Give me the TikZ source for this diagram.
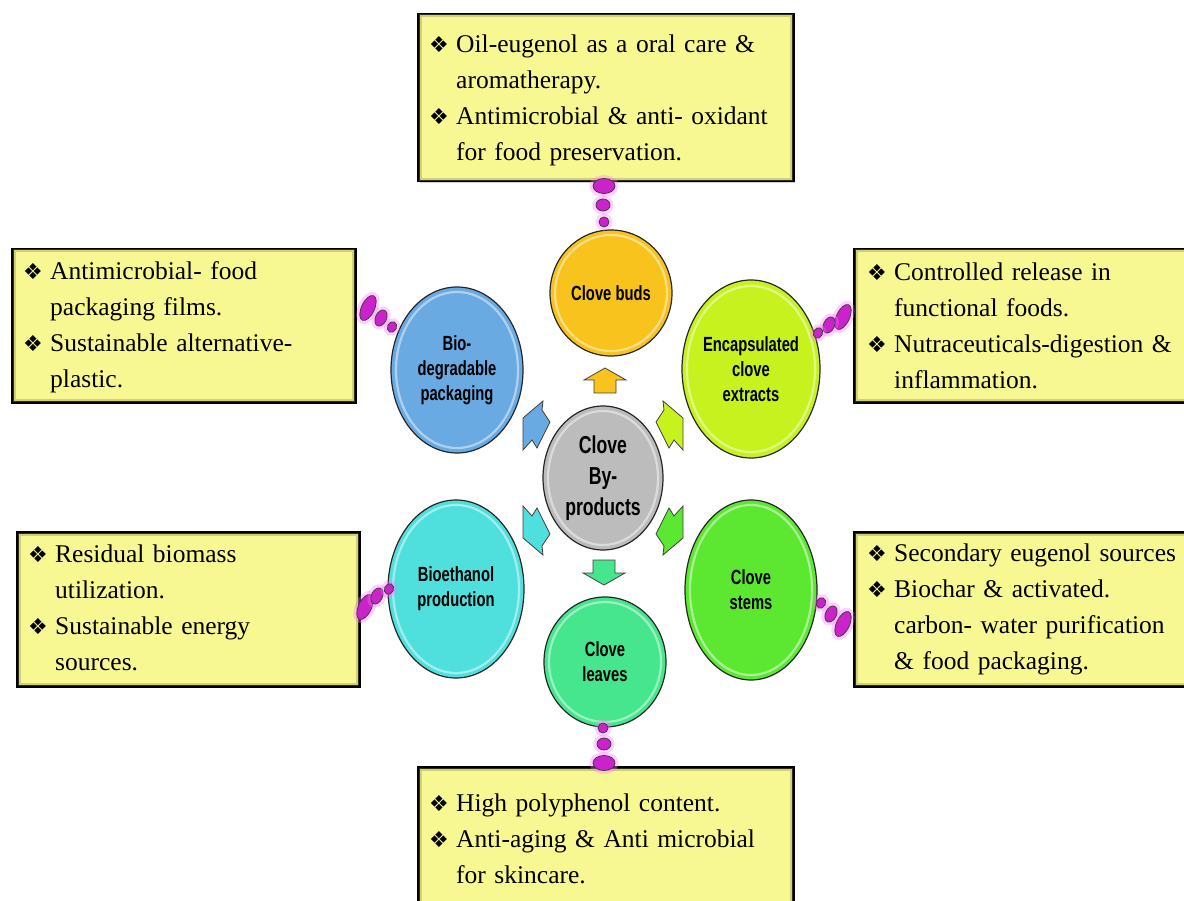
\documentclass[tikz,border=0pt]{standalone}
\usepackage{fontspec}
\setmainfont{Liberation Serif}
\newfontfamily\circfont[FakeStretch=0.72]{Liberation Sans}
\newfontfamily\bulfont{DejaVu Sans}
\usetikzlibrary{shapes.geometric,shadows,calc}
\definecolor{boxyel}{HTML}{F8F892}
\definecolor{cbuds}{HTML}{F9C31D}
\definecolor{cencap}{HTML}{C8F21E}
\definecolor{cstems}{HTML}{5CE830}
\definecolor{cleaves}{HTML}{45E68E}
\definecolor{cbioeth}{HTML}{4FE0DE}
\definecolor{cbiodeg}{HTML}{6AAAE2}
\definecolor{ccenter}{HTML}{BCBCBC}
\definecolor{dotmag}{HTML}{CC22CC}
\definecolor{dotglow}{HTML}{FF77FF}
\newcommand{\bul}{\makebox[27pt][l]{\bulfont\fontsize{22}{22}\selectfont ❖}}
\newcommand{\bitem}[1]{\par\setlength{\parskip}{0pt}\noindent\hangindent=27pt\relax\hangafter=1\relax\bul #1\par}
\newcommand{\ring}[4]{\draw[#4!45!white, line width=2.2, opacity=.85] (#1.center) ellipse [x radius=#2, y radius=#3];}
\begin{document}
\begin{tikzpicture}[x=1pt,y=-1pt,
  box/.style={rectangle, fill=boxyel, draw=black, line width=2.5, inner sep=0, anchor=north west,
    drop shadow={opacity=.35,shadow xshift=2pt,shadow yshift=-2pt}},
  inner/.style={draw=boxyel!55!black, line width=3, opacity=.35},
  txt/.style={anchor=west, inner sep=0, text width=400pt, align=left,
    font=\fontsize{25.5}{36}\selectfont},
  circ/.style={ellipse, draw=black!85, line width=1.2, inner sep=0, align=center,
    font=\circfont\bfseries\fontsize{20.5}{25}\selectfont},
  dot/.style={ellipse, fill=dotmag, draw=black!75, line width=.8, inner sep=0,
    preaction={draw=dotglow, line width=7, opacity=.35}},
  arr/.style={draw=black!75, line width=.8, line join=miter}
]
\useasboundingbox (0,0) rectangle (1184,901);
\fill[white] (0,0) rectangle (1184,901);
\clip (0,0) rectangle (1184,901);

% ---------- boxes ----------
\node[box, minimum width=375, minimum height=167] (btop) at (417,13) {};
\node[box, minimum width=343, minimum height=153] (blt) at (11,248) {};
\node[box, minimum width=380, minimum height=153] (brt) at (853,248) {};
\node[box, minimum width=342, minimum height=154] (blb) at (16,531) {};
\node[box, minimum width=380, minimum height=154] (brb) at (853,531) {};
\node[box, minimum width=375, minimum height=143] (bbot) at (417,766) {};
\foreach \b in {btop,blt,brt,blb,brb,bbot}{
  \draw[inner] ([shift={(3,3)}]\b.north west) rectangle ([shift={(-3,-3)}]\b.south east);
}

\node[txt] (ttop) at ([shift={(12,-7)}]btop.west) {%
  \bitem{Oil-eugenol as a oral care \&\newline aromatherapy.}%
  \bitem{Antimicrobial \& anti- oxidant\newline for food preservation.}};
\node[txt] (tlt) at ([shift={(12,-8)}]blt.west) {%
  \bitem{Antimicrobial- food\newline packaging films.}%
  \bitem{Sustainable alternative-\newline plastic.}};
\node[txt] (trt) at ([shift={(14,-9)}]brt.west) {%
  \bitem{Controlled release in\newline functional foods.}%
  \bitem{Nutraceuticals-digestion \&\newline inflammation.}};
\node[txt] (tlb) at ([shift={(12,-11)}]blb.west) {%
  \bitem{Residual biomass\newline utilization.}%
  \bitem{Sustainable energy\newline sources.}};
\node[txt] (trb) at ([shift={(14,-9)}]brb.west) {%
  \bitem{Secondary eugenol sources}%
  \bitem{Biochar \& activated.\newline carbon- water purification\newline \& food packaging.}};
\node[txt, anchor=north west] (tbot) at (429,775) {%
  \bitem{High polyphenol content.}%
  \bitem{Anti-aging \& Anti microbial\newline for skincare.}};

% ---------- circles ----------
\node[circ, fill=cbuds, minimum width=122, minimum height=126] (buds) at (611,293) {Clove buds};
\node[circ, fill=cencap, minimum width=138, minimum height=178] (encap) at (751,369) {Encapsulated\\clove\\extracts};
\node[circ, fill=cbiodeg, minimum width=132, minimum height=166] (biodeg) at (457,370) {Bio-\\degradable\\packaging};
\node[circ, fill=cbioeth, minimum width=136, minimum height=178] (bioeth) at (456,589) {Bioethanol\\production};
\node[circ, fill=cstems, minimum width=132, minimum height=180] (stems) at (751,590) {Clove\\stems};
\node[circ, fill=cleaves, minimum width=122, minimum height=130] (leaves) at (605,662) {Clove\\leaves};
\node[circ, fill=ccenter, minimum width=120, minimum height=144,
  font=\circfont\bfseries\fontsize{24.5}{31}\selectfont] (center) at (603,478) {Clove\\By-\\products};
\ring{buds}{56}{58}{cbuds}
\ring{encap}{64}{83}{cencap}
\ring{biodeg}{61}{78}{cbiodeg}
\ring{bioeth}{63}{84}{cbioeth}
\ring{stems}{61}{85}{cstems}
\ring{leaves}{56}{60}{cleaves}
\ring{center}{55}{67}{ccenter}

% ---------- block arrows ----------
\draw[arr, fill=cbuds, shift={(605,381)}, rotate=90]
  (-12,-11) -- (1,-11) -- (1,-21) -- (13,0) -- (1,21) -- (1,11) -- (-12,11) -- cycle;
\draw[arr, fill=cleaves, shift={(604,572)}, rotate=-90]
  (-12,-11) -- (1,-11) -- (1,-21) -- (13,0) -- (1,21) -- (1,11) -- (-12,11) -- cycle;
\foreach \sx/\sy/\col in {1/1/cbiodeg, -1/1/cencap, 1/-1/cbioeth, -1/-1/cstems}{
  \draw[arr, fill=\col, shift={(center.center)}, xscale=\sx, yscale=\sy]
    (-60,-77) -- (-61,-68) -- (-53,-56) -- (-66,-30) -- (-71,-38) -- (-80,-28) -- (-80,-60) -- cycle;
}

% ---------- bubble dots ----------
\node[dot, minimum width=22, minimum height=15] (dt1) at (604,186) {};
\node[dot, minimum width=14, minimum height=12] (dt2) at (603,205) {};
\node[dot, minimum width=10, minimum height=10] (dt3) at (604,222) {};

\node[dot, minimum width=10, minimum height=10] (db3) at (603,728) {};
\node[dot, minimum width=14, minimum height=12] (db2) at (604,744) {};
\node[dot, minimum width=22, minimum height=15] (db1) at (604,763) {};

\node[dot, minimum width=27, minimum height=13, rotate=65] (dlt1) at (368,308) {};
\node[dot, minimum width=17, minimum height=11, rotate=65] (dlt2) at (381,318) {};
\node[dot, minimum width=11, minimum height=9, rotate=65] (dlt3) at (392,327) {};

\node[dot, minimum width=27, minimum height=13, rotate=65] (drt1) at (843,317) {};
\node[dot, minimum width=17, minimum height=11, rotate=65] (drt2) at (829,325) {};
\node[dot, minimum width=11, minimum height=9, rotate=65] (drt3) at (818,333) {};

\node[dot, minimum width=27, minimum height=13, rotate=65] (dlb1) at (365,607) {};
\node[dot, minimum width=17, minimum height=11, rotate=65] (dlb2) at (377,596) {};
\node[dot, minimum width=11, minimum height=9, rotate=65] (dlb3) at (389,589) {};

\node[dot, minimum width=27, minimum height=13, rotate=65] (drb1) at (843,624) {};
\node[dot, minimum width=17, minimum height=11, rotate=65] (drb2) at (831,614) {};
\node[dot, minimum width=11, minimum height=9, rotate=65] (drb3) at (821,603) {};
\end{tikzpicture}
\end{document}
